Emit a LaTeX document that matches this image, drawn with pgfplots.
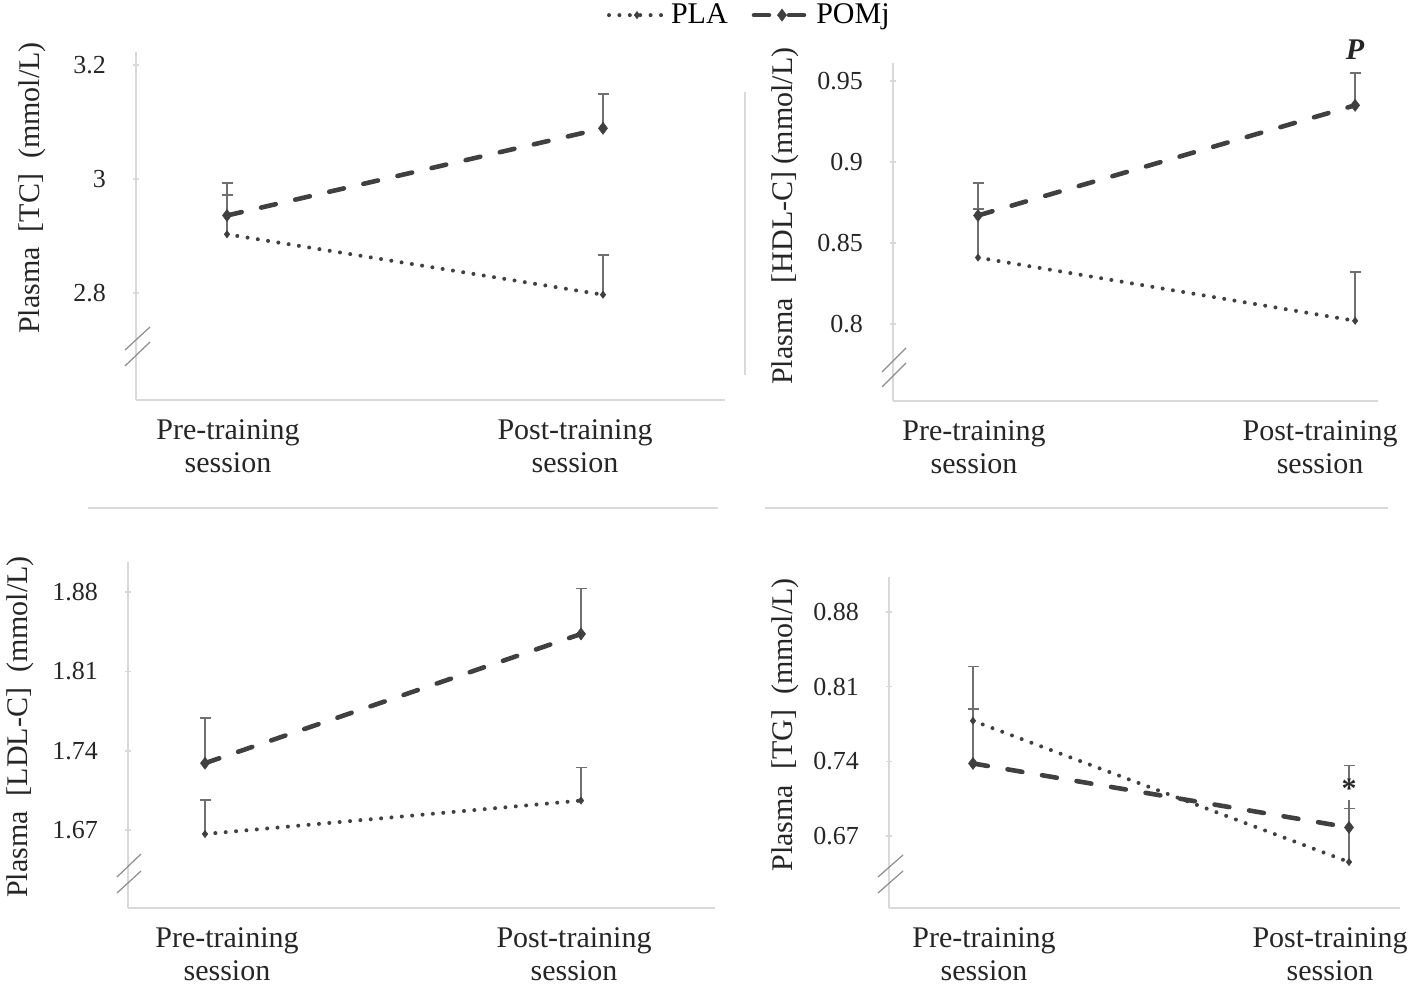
\documentclass[border=0pt]{standalone}
\usepackage{fontspec}
\setmainfont{Liberation Serif}
\usepackage{pgfplots}
\pgfplotsset{compat=1.18}
\definecolor{ln}{HTML}{404040}
\definecolor{eb}{HTML}{707070}
\definecolor{ax}{HTML}{D9D9D9}
\definecolor{brk}{HTML}{8C8C8C}

\pgfplotsset{
  panel/.style={
    scale only axis, axis x line*=bottom, axis y line*=left,
    axis line style={draw=ax, line width=1pt},
    anchor=south west, clip=false,
    x tick style={draw=none},
    y tick style={draw=ax, line width=0.8pt},
    tick align=center, major tick length=3pt,
    yticklabel style={font=\fontsize{13}{13}\selectfont, text=black!85, xshift=-10pt},
    xticklabel style={font=\fontsize{15}{16.5}\selectfont, text=black!85, align=center, yshift=-5pt},
    ylabel style={font=\fontsize{15}{15}\selectfont, text=black!85, anchor=center},
  },
  pla/.style={ln, line width=2pt, line cap=round, dash pattern=on 0pt off 5.2pt,
    mark=diamond*, mark size=1.8pt,
    mark options={solid, fill=ln, draw=ln, line width=0.3pt},
    error bars/.cd, y dir=plus, y explicit,
    error bar style={eb, line width=0.75pt, solid, line cap=butt},
    error mark options={eb, line width=0.75pt, mark size=2.75pt, rotate=90, solid}},
  pomj/.style={ln, line width=2.3pt, line cap=round, dash pattern=on 7.5pt off 10pt,
    mark=diamond*, mark size=3pt,
    mark options={solid, fill=ln, draw=ln, line width=0.3pt},
    error bars/.cd, y dir=plus, y explicit,
    error bar style={eb, line width=0.75pt, solid, line cap=butt},
    error mark options={eb, line width=0.75pt, mark size=2.75pt, rotate=90, solid}},
}

\begin{document}
\begin{tikzpicture}
\useasboundingbox (0,0) rectangle (709pt,496pt);

% Panel 1: TC
\begin{axis}[panel,
  at={(68pt,296pt)}, width=294.5pt, height=174pt,
  xmin=136, xmax=725, ymin=2.6123, ymax=3.2228,
  xtick={228,575}, xticklabels={Pre-training\\session, Post-training\\session},
  ytick={2.8,3,3.2}, yticklabels={2.8,3,3.2},
  ylabel={Plasma\ \ [TC]\ \ (mmol/L)},
  ylabel style={at={(axis description cs:-0.1766,0.609)}},
  legend style={at={(axis description cs:1.043,1.106)}, anchor=center, draw=none, fill=none,
    legend columns=2, font=\fontsize{15}{15}\selectfont,
    /tikz/every even column/.append style={column sep=10pt}},
  legend image code/.code={\draw[mark repeat=2, mark phase=2] plot coordinates {(0pt,0pt) (14pt,0pt) (28pt,0pt)};},
]
\addplot[pla] coordinates {(227,2.903) +- (0,0.069) (603,2.797) +- (0,0.070)};
\addplot[pomj] coordinates {(227,2.936) +- (0,0.057) (603,3.089) +- (0,0.060)};
\legend{PLA, POMj}
\end{axis}

% Panel 2: HDL-C
\begin{axis}[panel,
  at={(446.5pt,295.5pt)}, width=242.5pt, height=169pt,
  xmin=893, xmax=1378, ymin=0.7525, ymax=0.9611,
  xtick={974,1320}, xticklabels={Pre-training\\session, Post-training\\session},
  ytick={0.8,0.85,0.9,0.95}, yticklabels={0.8,0.85,0.9,0.95},
  ylabel={Plasma\ \ [HDL-C] (mmol/L)},
  ylabel style={at={(axis description cs:-0.2227,0.547)}},
]
\addplot[pla] coordinates {(978,0.841) +- (0,0.030) (1355,0.802) +- (0,0.030)};
\addplot[pomj] coordinates {(978,0.867) +- (0,0.020) (1355,0.935) +- (0,0.020)};
\node[font=\fontsize{15}{15}\selectfont\bfseries\itshape, text=black!85] at (axis cs:1355,0.9691) {P};
\end{axis}

% Panel 3: LDL-C
\begin{axis}[panel,
  at={(64pt,42pt)}, width=293.5pt, height=173pt,
  xmin=128, xmax=715, ymin=1.6012, ymax=1.9065,
  xtick={227,574}, xticklabels={Pre-training\\session, Post-training\\session},
  ytick={1.67,1.74,1.81,1.88}, yticklabels={1.67,1.74,1.81,1.88},
  ylabel={Plasma\ \ [LDL-C]\ \ (mmol/L)},
  ylabel style={at={(axis description cs:-0.184,0.523)}},
]
\addplot[pla] coordinates {(205,1.6665) +- (0,0.030) (581,1.696) +- (0,0.029)};
\addplot[pomj] coordinates {(205,1.729) +- (0,0.040) (581,1.843) +- (0,0.040)};
\end{axis}

% Panel 4: TG
\begin{axis}[panel,
  at={(444.5pt,42pt)}, width=255.5pt, height=165.5pt,
  xmin=889, xmax=1400, ymin=0.6025, ymax=0.9128,
  xtick={984,1330}, xticklabels={Pre-training\\session, Post-training\\session},
  ytick={0.67,0.74,0.81,0.88}, yticklabels={0.67,0.74,0.81,0.88},
  ylabel={Plasma\ \ [TG]\ \ (mmol/L)},
  ylabel style={at={(axis description cs:-0.2035,0.553)}},
]
\addplot[pla] coordinates {(973,0.778) +- (0,0.051) (1349,0.6456) +- (0,0.0504)};
\addplot[pomj] coordinates {(973,0.738) +- (0,0.051) (1349,0.678) +- (0,0.058)};
\node[fill=white, inner sep=0pt, minimum width=8pt, minimum height=11pt,
  font=\fontsize{15}{15}\selectfont\bfseries, text=black!85] at (axis cs:1349,0.714) {*};
\end{axis}

% decorations: separators and axis breaks
\begin{scope}[shift={(0pt,496pt)}, x=0.5pt, y=-0.5pt]
\draw[ax, line width=1pt] (88,508) -- (718,508);
\draw[ax, line width=1pt] (765,508) -- (1388,508);
\draw[ax, line width=1pt] (745,92) -- (745,375);
\draw[brk, line width=0.6pt] (125,350) -- (150,327);
\draw[brk, line width=0.6pt] (125,366) -- (150,342);
\draw[brk, line width=0.6pt] (882,372) -- (906,348);
\draw[brk, line width=0.6pt] (882,387) -- (906,363);
\draw[brk, line width=0.6pt] (117,877) -- (141,854);
\draw[brk, line width=0.6pt] (117,893) -- (141,871);
\draw[brk, line width=0.6pt] (878,877) -- (903,855);
\draw[brk, line width=0.6pt] (878,893) -- (903,871);
\end{scope}
\end{tikzpicture}
\end{document}
